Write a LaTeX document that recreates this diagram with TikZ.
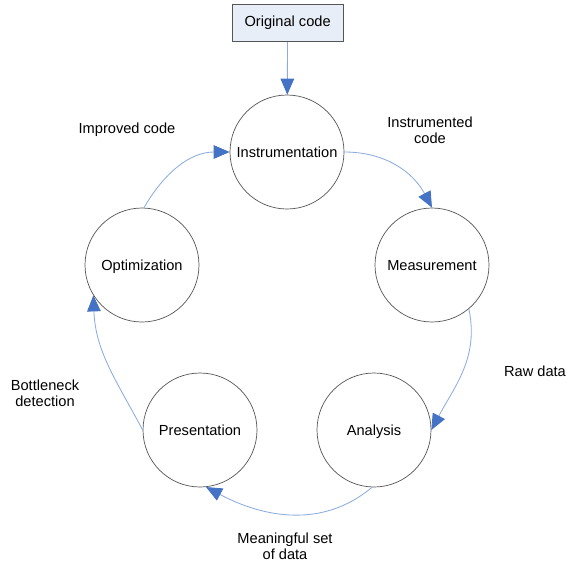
\documentclass[tikz,border=0pt]{standalone}
\usepackage{fontspec}
\setmainfont{Liberation Sans}
\usetikzlibrary{arrows.meta}

\definecolor{cyclering}{RGB}{85,85,85}
\definecolor{cycleline}{RGB}{140,172,222}
\definecolor{cyclehead}{RGB}{68,114,196}
\definecolor{startbox}{RGB}{232,238,247}

\begin{document}
\begin{tikzpicture}[
		font=\fontsize{10.4}{11.6}\selectfont,
		stage/.style={circle, draw=cyclering, line width=0.5pt, fill=white,
			minimum size=2.85cm, inner sep=0pt, align=center,
			text height=0.8em, text depth=0.08em},
		start/.style={rectangle, draw=cyclering, line width=0.6pt, fill=startbox,
			minimum width=2.775cm, minimum height=0.925cm, align=center},
		note/.style={align=center},
		flow/.style={draw=cycleline, line width=0.6pt,
			-{Triangle[length=0.4cm, width=0.34cm, color=cyclehead]}}
	]
		\useasboundingbox (0,0) rectangle (14.2,-14.05);
		% entry box
		\node[start] (ORG) at (7.19,-0.58) {Original code};
		% the five stages of the loop
		\node[stage] (INS) at (7.175,-3.8) {Instrumentation};
		\node[stage] (MEA) at (10.8,-6.625) {Measurement};
		\node[stage] (ANA) at (9.35,-10.75) {Analysis};
		\node[stage] (PRE) at (5.0,-10.75) {Presentation};
		\node[stage] (OPT) at (3.55,-6.625) {Optimization};
		% labels on the transitions
		\node[note] (lIMP) at (3.175,-3.25) {Improved code};
		\node[note] (lINS) at (10.75,-3.25) {Instrumented\\code};
		\node[note] (lRAW) at (13.375,-9.275) {Raw data};
		\node[note] (lSET) at (7.125,-13.65) {Meaningful set\\of data};
		\node[note] (lBOT) at (1.125,-9.825) {Bottleneck\\detection};
		% arrows
		\draw[flow] (ORG) -- (INS);
		\draw[flow] (INS.east) to[out=0, in=118] (MEA.north);
		\draw[flow] (MEA.-50) to[out=-78, in=62] (ANA.east);
		\draw[flow] (ANA.-92) to[out=-140, in=-28] (PRE.-84);
		\draw[flow] (PRE.west) to[out=118, in=-88] (OPT.212);
		\draw[flow] (OPT.88) to[out=60, in=180] (INS.west);
	\end{tikzpicture}
\end{document}
